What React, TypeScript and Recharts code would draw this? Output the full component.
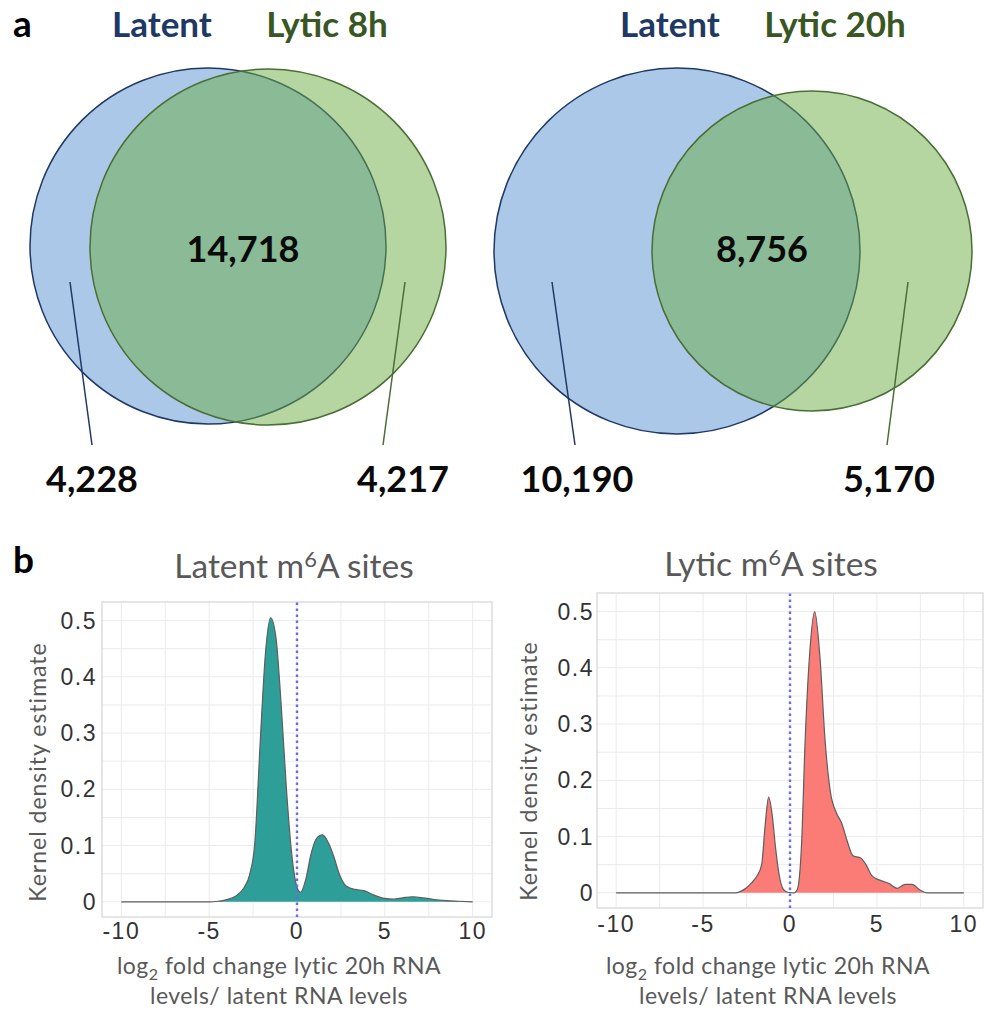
import React from "react";
import {
  AreaChart,
  Area,
  XAxis,
  YAxis,
  CartesianGrid,
  ReferenceLine,
  ReferenceArea,
  ReferenceDot,
  ComposedChart,
} from "recharts";

// ---- panel a: Venn counts ----
const setNames = [
  ["Latent", "Lytic 8h"],
  ["Latent", "Lytic 20h"],
];
const onlyLatent = [4228, 10190];
const sharedSites = [14718, 8756];
const onlyLytic = [4217, 5170];

// ---- panel b: kernel density estimates ----
const latentX = [
  -10, -5, -4.5, -4, -3.5, -3, -2.7, -2.4, -2.1, -1.8, -1.5, -1.2, -0.9, -0.6, -0.3, 0, 0.2, 0.5, 0.8,
  1.1, 1.45, 1.8, 2.1, 2.4, 2.8, 3.3, 3.8, 4.3, 5, 5.5, 6, 6.6, 7.2, 7.8, 8.5, 9.2, 10,
];
const latentY = [
  0, 0, 0.001, 0.004, 0.01, 0.026, 0.048, 0.105, 0.28, 0.44, 0.505, 0.47, 0.35, 0.2, 0.085, 0.026,
  0.017, 0.04, 0.085, 0.112, 0.119, 0.104, 0.08, 0.05, 0.028, 0.022, 0.02, 0.013, 0.006, 0.005, 0.007,
  0.009, 0.007, 0.004, 0.002, 0.001, 0,
];
const lyticX = [
  -10, -3.1, -2.8, -2.5, -2.2, -1.9, -1.63, -1.43, -1.23, -1.03, -0.83, -0.63, -0.38, -0.13, 0.22, 0.42,
  0.67, 0.87, 1.12, 1.42, 1.72, 2.02, 2.32, 2.67, 2.97, 3.27, 3.62, 4.07, 4.37, 4.72, 5.12, 5.67, 6.17,
  6.62, 7.02, 7.47, 7.87, 10,
];
const lyticY = [
  0, 0, 0.003, 0.009, 0.018, 0.03, 0.05, 0.12, 0.17, 0.14, 0.08, 0.033, 0.006, 0.001, 0, 0.006, 0.09,
  0.27, 0.42, 0.5, 0.42, 0.27, 0.18, 0.142, 0.124, 0.094, 0.066, 0.062, 0.05, 0.03, 0.023, 0.017, 0.008,
  0.015, 0.015, 0.005, 0, 0,
];
const xTicks = [-10, -5, 0, 5, 10];
const yTicks = [0, 0.1, 0.2, 0.3, 0.4, 0.5];
const gridX = [-10, -7.5, -5, -2.5, 0, 2.5, 5, 7.5, 10];
const gridY = [0, 0.05, 0.1, 0.15, 0.2, 0.25, 0.3, 0.35, 0.4, 0.45, 0.5];

const X_DOMAIN: [number, number] = [-11.1, 11.1];
const Y_DOMAIN: [number, number] = [-0.027, 0.533];

// venn geometry, in pixels of the top strip
const vennLayout = [
  {
    a: { cx: 208, cy: 246, r: 178 },
    b: { cx: 268, cy: 247, r: 178 },
    lineA: [70, 282, 92, 445],
    lineB: [405, 282, 383, 445],
    titleA: 162,
    titleB: 327,
    mid: 243,
    labA: 92,
    labB: 403,
  },
  {
    a: { cx: 677, cy: 251, r: 183 },
    b: { cx: 812, cy: 251, r: 160 },
    lineA: [552, 282, 575, 445],
    lineB: [908, 282, 887, 445],
    titleA: 670,
    titleB: 835,
    mid: 762,
    labA: 577,
    labB: 889,
  },
];

const NAVY = "#203864";
const DGREEN = "#385723";
const LINE_GREEN = "#4a6e35";
const fmt = (n: number) => n.toLocaleString("en-US");

const tickStyle = {
  fill: "#333",
  fontSize: 23,
  fontFamily: "Liberation Sans, Arial, sans-serif",
  letterSpacing: 1.5,
};

function StripAxes() {
  return (
    <>
      <XAxis type="number" dataKey="x" domain={[0, 993]} hide />
      <YAxis type="number" dataKey="y" domain={[0, 520]} reversed hide />
    </>
  );
}

function VennCircles() {
  return (
    <ComposedChart
      width={993}
      height={520}
      data={[{ x: 0, y: 0 }]}
      margin={{ top: 0, right: 0, bottom: 0, left: 0 }}
    >
      {StripAxes()}
      {vennLayout.map((v, i) => (
        <React.Fragment key={i}>
          <ReferenceDot
            x={v.a.cx}
            y={v.a.cy}
            r={v.a.r}
            fill="#abc8e8"
            stroke={NAVY}
            strokeWidth={1.5}
          />
          <ReferenceDot
            x={v.b.cx}
            y={v.b.cy}
            r={v.b.r}
            fill="rgba(107,171,67,0.5)"
            stroke={LINE_GREEN}
            strokeWidth={1.5}
          />
        </React.Fragment>
      ))}
    </ComposedChart>
  );
}

// leader lines live in their own layer so they sit above the circles
function VennLeaders() {
  return (
    <ComposedChart
      width={993}
      height={520}
      data={[{ x: 0, y: 0 }]}
      margin={{ top: 0, right: 0, bottom: 0, left: 0 }}
    >
      {StripAxes()}
      {vennLayout.map((v, i) => (
        <React.Fragment key={i}>
          <ReferenceLine
            segment={[
              { x: v.lineA[0], y: v.lineA[1] },
              { x: v.lineA[2], y: v.lineA[3] },
            ]}
            stroke={NAVY}
            strokeWidth={1.5}
          />
          <ReferenceLine
            segment={[
              { x: v.lineB[0], y: v.lineB[1] },
              { x: v.lineB[2], y: v.lineB[3] },
            ]}
            stroke={LINE_GREEN}
            strokeWidth={1.5}
          />
        </React.Fragment>
      ))}
    </ComposedChart>
  );
}

// grid positions follow the same linear mapping as the axes (domain -> plot offset)
const gridVertical = ({ offset }: any) =>
  gridX.map((g) => offset.left + ((g - X_DOMAIN[0]) / (X_DOMAIN[1] - X_DOMAIN[0])) * offset.width);
const gridHorizontal = ({ offset }: any) =>
  gridY.map((g) => offset.top + ((Y_DOMAIN[1] - g) / (Y_DOMAIN[1] - Y_DOMAIN[0])) * offset.height);

function DensityPanel({
  xs,
  ys,
  fill,
  width,
  height,
  margin,
  xGap,
  yGap,
}: {
  xs: number[];
  ys: number[];
  fill: string;
  width: number;
  height: number;
  margin: { top: number; right: number; bottom: number; left: number };
  xGap: number;
  yGap: number;
}) {
  const data = xs.map((x, i) => ({ x, y: ys[i] }));
  return (
    <AreaChart width={width} height={height} data={data} margin={margin}>
      <CartesianGrid
        stroke="#ebebeb"
        strokeWidth={1}
        verticalCoordinatesGenerator={gridVertical}
        horizontalCoordinatesGenerator={gridHorizontal}
      />
      <XAxis
        dataKey="x"
        type="number"
        domain={X_DOMAIN}
        ticks={xTicks}
        allowDataOverflow
        axisLine={false}
        tickLine={false}
        tickSize={0}
        tickMargin={xGap}
        height={30}
        tick={tickStyle}
        interval={0}
      />
      <YAxis
        type="number"
        domain={Y_DOMAIN}
        ticks={yTicks}
        allowDataOverflow
        axisLine={false}
        tickLine={false}
        tickSize={0}
        tickMargin={yGap}
        width={60}
        tick={tickStyle}
        interval={0}
      />
      <ReferenceArea
        x1={X_DOMAIN[0]}
        x2={X_DOMAIN[1]}
        y1={Y_DOMAIN[0]}
        y2={Y_DOMAIN[1]}
        fill="none"
        stroke="#dddddd"
        strokeWidth={1.5}
      />
      <Area
        type="monotone"
        dataKey="y"
        fill={fill}
        fillOpacity={1}
        stroke="#5e5e5e"
        strokeWidth={1.2}
        dot={false}
        activeDot={false}
        isAnimationActive={false}
      />
      <ReferenceLine x={0} stroke="#6a6af0" strokeWidth={2.4} strokeDasharray="2.4 3.6" />
    </AreaChart>
  );
}

const lato = "Lato, 'Open Sans', sans-serif";

function Annotations() {
  const gray = "#595959";
  return (
    <svg
      width={993}
      height={1022}
      style={{ position: "absolute", left: 0, top: 0, pointerEvents: "none" }}
      fontFamily={lato}
    >
      <text x={13} y={37} fontSize={37} fontWeight={700} fill="#000">
        a
      </text>
      <text x={13} y={573} fontSize={37} fontWeight={700} fill="#000">
        b
      </text>
      {vennLayout.map((v, i) => (
        <g key={i} textAnchor="middle" fontWeight={700}>
          <text x={v.titleA} y={37} fontSize={35} fill={NAVY}>
            {setNames[i][0]}
          </text>
          <text x={v.titleB} y={37} fontSize={35} fill={DGREEN}>
            {setNames[i][1]}
          </text>
          <text x={v.mid} y={262} fontSize={36} fill="#0a0a0a">
            {fmt(sharedSites[i])}
          </text>
          <text x={v.labA} y={492} fontSize={36} fill="#0a0a0a">
            {fmt(onlyLatent[i])}
          </text>
          <text x={v.labB} y={492} fontSize={36} fill="#0a0a0a">
            {fmt(onlyLytic[i])}
          </text>
        </g>
      ))}
      {[
        { name: "Latent", cx: 294, ty: 578, lx: 46, ly: 772, mx: 279 },
        { name: "Lytic", cx: 771, ty: 576, lx: 537, ly: 771, mx: 768 },
      ].map((p) => (
        <g key={p.name} fill={gray}>
          <text x={p.cx} y={p.ty} fontSize={33.5} textAnchor="middle">
            {p.name} m
            <tspan fontSize={22} dy={-11}>
              6
            </tspan>
            <tspan dy={11}>A sites</tspan>
          </text>
          <text
            x={p.lx}
            y={p.ly}
            fontSize={23}
            textAnchor="middle"
            transform={`rotate(-90 ${p.lx} ${p.ly})`}
            letterSpacing={1}
          >
            Kernel density estimate
          </text>
          <text x={p.mx} y={974} fontSize={23} textAnchor="middle" letterSpacing={0.5}>
            log
            <tspan fontSize={16} dy={6}>
              2
            </tspan>
            <tspan dy={-6}> fold change lytic 20h RNA</tspan>
          </text>
          <text x={p.mx} y={1004} fontSize={23} textAnchor="middle" letterSpacing={0.5}>
            levels/ latent RNA levels
          </text>
        </g>
      ))}
    </svg>
  );
}

export default function App() {
  return (
    <div
      style={{
        position: "absolute",
        left: 0,
        top: 0,
        width: 993,
        height: 1022,
        background: "#fff",
        overflow: "hidden",
      }}
    >
      <div style={{ position: "absolute", left: 0, top: 0 }}>
        <VennCircles />
      </div>
      <div style={{ position: "absolute", left: 0, top: 0 }}>
        <VennLeaders />
      </div>
      <div style={{ position: "absolute", left: 0, top: 560 }}>
        <DensityPanel
          xs={latentX}
          ys={latentY}
          fill="#2e9e98"
          width={500}
          height={400}
          margin={{ top: 42, right: 8, bottom: 13, left: 42 }}
          xGap={6}
          yGap={5}
        />
      </div>
      <div style={{ position: "absolute", left: 500, top: 550 }}>
        <DensityPanel
          xs={lyticX}
          ys={lyticY}
          fill="#fb7b77"
          width={493}
          height={400}
          margin={{ top: 43, right: 10, bottom: 12, left: 37 }}
          xGap={8}
          yGap={3}
        />
      </div>
      <Annotations />
    </div>
  );
}
